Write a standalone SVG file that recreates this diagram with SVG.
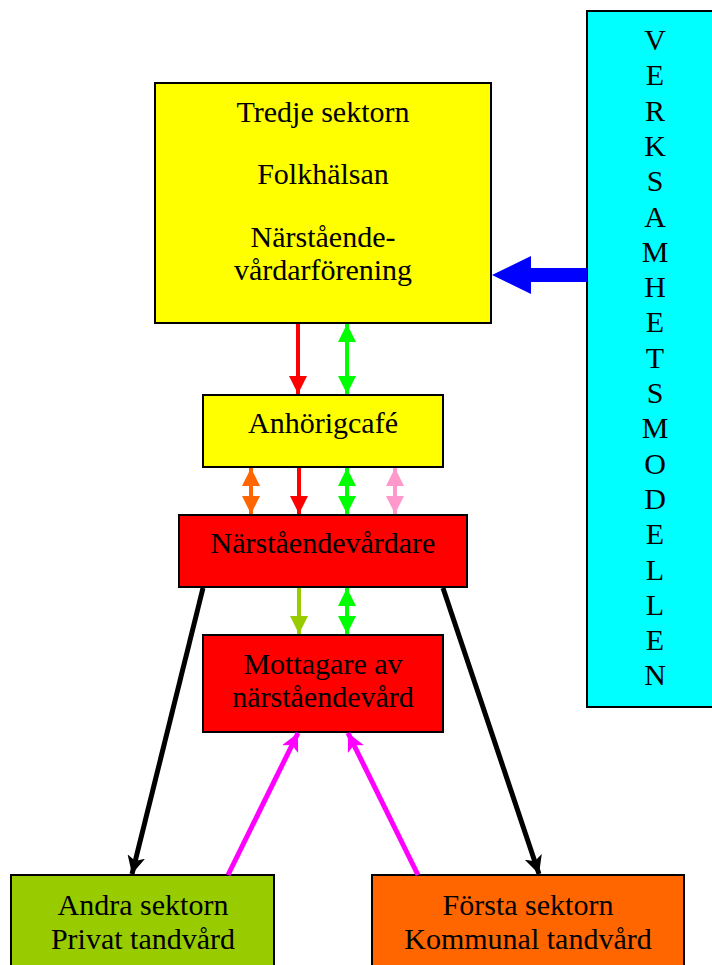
<svg xmlns="http://www.w3.org/2000/svg" width="712" height="965" viewBox="0 0 712 965">
<style>
.box{stroke:#000;stroke-width:2}
.t{font-family:"Liberation Serif","Times New Roman",serif;font-size:30px;fill:#000;text-anchor:middle}
.a{stroke-width:4;fill:none}
.b{stroke-width:5;fill:none}
</style>
<defs>
<marker id="hRed" markerUnits="userSpaceOnUse" markerWidth="18" markerHeight="18" refX="16" refY="8" orient="auto-start-reverse" viewBox="0 0 16 16"><path d="M0,0 L16,8 L0,16 Z" fill="#FF0000"/></marker>
<marker id="hGreen" markerUnits="userSpaceOnUse" markerWidth="18" markerHeight="18" refX="16" refY="8" orient="auto-start-reverse" viewBox="0 0 16 16"><path d="M0,0 L16,8 L0,16 Z" fill="#00FF00"/></marker>
<marker id="hOrange" markerUnits="userSpaceOnUse" markerWidth="18" markerHeight="18" refX="16" refY="8" orient="auto-start-reverse" viewBox="0 0 16 16"><path d="M0,0 L16,8 L0,16 Z" fill="#FF6600"/></marker>
<marker id="hPink" markerUnits="userSpaceOnUse" markerWidth="18" markerHeight="18" refX="16" refY="8" orient="auto-start-reverse" viewBox="0 0 16 16"><path d="M0,0 L16,8 L0,16 Z" fill="#FF99CC"/></marker>
<marker id="hYG" markerUnits="userSpaceOnUse" markerWidth="18" markerHeight="18" refX="16" refY="8" orient="auto-start-reverse" viewBox="0 0 16 16"><path d="M0,0 L16,8 L0,16 Z" fill="#99CC00"/></marker>
<marker id="hBlack" markerUnits="userSpaceOnUse" markerWidth="18" markerHeight="18" refX="16" refY="8" orient="auto" viewBox="0 0 16 16"><path d="M0,0 L16,8 L0,16 L4,8 Z" fill="#000"/></marker>
<marker id="hMag" markerUnits="userSpaceOnUse" markerWidth="18" markerHeight="18" refX="16" refY="8" orient="auto" viewBox="0 0 16 16"><path d="M0,0 L16,8 L0,16 L4,8 Z" fill="#FF00FF"/></marker>
</defs>

<g id="verksamhetsmodellen">
<rect class="box" x="587" y="11" width="130" height="696" fill="#00FFFF"/>
<text class="t" x="655" y="50">V</text>
<text class="t" x="655" y="85.3">E</text>
<text class="t" x="655" y="120.6">R</text>
<text class="t" x="655" y="155.9">K</text>
<text class="t" x="655" y="191.2">S</text>
<text class="t" x="655" y="226.5">A</text>
<text class="t" x="655" y="261.8">M</text>
<text class="t" x="655" y="297.1">H</text>
<text class="t" x="655" y="332.4">E</text>
<text class="t" x="655" y="367.7">T</text>
<text class="t" x="655" y="403">S</text>
<text class="t" x="655" y="438.3">M</text>
<text class="t" x="655" y="473.6">O</text>
<text class="t" x="655" y="508.9">D</text>
<text class="t" x="655" y="544.2">E</text>
<text class="t" x="655" y="579.5">L</text>
<text class="t" x="655" y="614.8">L</text>
<text class="t" x="655" y="650.1">E</text>
<text class="t" x="655" y="685.4">N</text>
</g>

<g id="tredje">
<rect class="box" x="155" y="83" width="336" height="240" fill="#FFFF00"/>
<text class="t" x="323" y="122">Tredje sektorn</text>
<text class="t" x="323" y="184">Folkhälsan</text>
<text class="t" x="323" y="247">Närstående-</text>
<text class="t" x="323" y="280">vårdarförening</text>
</g>

<g id="anhorigcafe">
<rect class="box" x="203" y="395" width="240" height="72" fill="#FFFF00"/>
<text class="t" x="323" y="433">Anhörigcafé</text>
</g>

<g id="narstaendevardare">
<rect class="box" x="179" y="515" width="288" height="72" fill="#FF0000"/>
<text class="t" x="323" y="553">Närståendevårdare</text>
</g>

<g id="mottagare">
<rect class="box" x="203" y="635" width="240" height="97" fill="#FF0000"/>
<text class="t" x="323" y="674">Mottagare av</text>
<text class="t" x="323" y="707">närståendevård</text>
</g>

<g id="andra">
<rect class="box" x="11" y="875" width="263" height="100" fill="#99CC00"/>
<text class="t" x="143" y="915">Andra sektorn</text>
<text class="t" x="143" y="949">Privat tandvård</text>
</g>

<g id="forsta">
<rect class="box" x="372" y="875" width="312" height="100" fill="#FF6600"/>
<text class="t" x="528" y="915">Första sektorn</text>
<text class="t" x="528" y="949">Kommunal tandvård</text>
</g>

<g id="connectors">
<polygon points="492,275 531,256 531,268 587,268 587,282 531,282 531,294" fill="#0000FF"/>
<path class="a" d="M298,324 V394" stroke="#FF0000" marker-end="url(#hRed)"/>
<path class="a" d="M347,324 V394" stroke="#00FF00" marker-start="url(#hGreen)" marker-end="url(#hGreen)"/>
<path class="a" d="M251,468 V514" stroke="#FF6600" marker-start="url(#hOrange)" marker-end="url(#hOrange)"/>
<path class="a" d="M299,468 V514" stroke="#FF0000" marker-end="url(#hRed)"/>
<path class="a" d="M347,468 V514" stroke="#00FF00" marker-start="url(#hGreen)" marker-end="url(#hGreen)"/>
<path class="a" d="M395,468 V514" stroke="#FF99CC" marker-start="url(#hPink)" marker-end="url(#hPink)"/>
<path class="a" d="M299,588 V634" stroke="#99CC00" marker-end="url(#hYG)"/>
<path class="a" d="M347,588 V634" stroke="#00FF00" marker-start="url(#hGreen)" marker-end="url(#hGreen)"/>
<path class="b" d="M203,588 L132,874" stroke="#000" marker-end="url(#hBlack)"/>
<path class="b" d="M443,588 L539,874" stroke="#000" marker-end="url(#hBlack)"/>
<path class="b" d="M228,875 L298,733" stroke="#FF00FF" marker-end="url(#hMag)"/>
<path class="b" d="M418,875 L348,733" stroke="#FF00FF" marker-end="url(#hMag)"/>
</g>
</svg>
